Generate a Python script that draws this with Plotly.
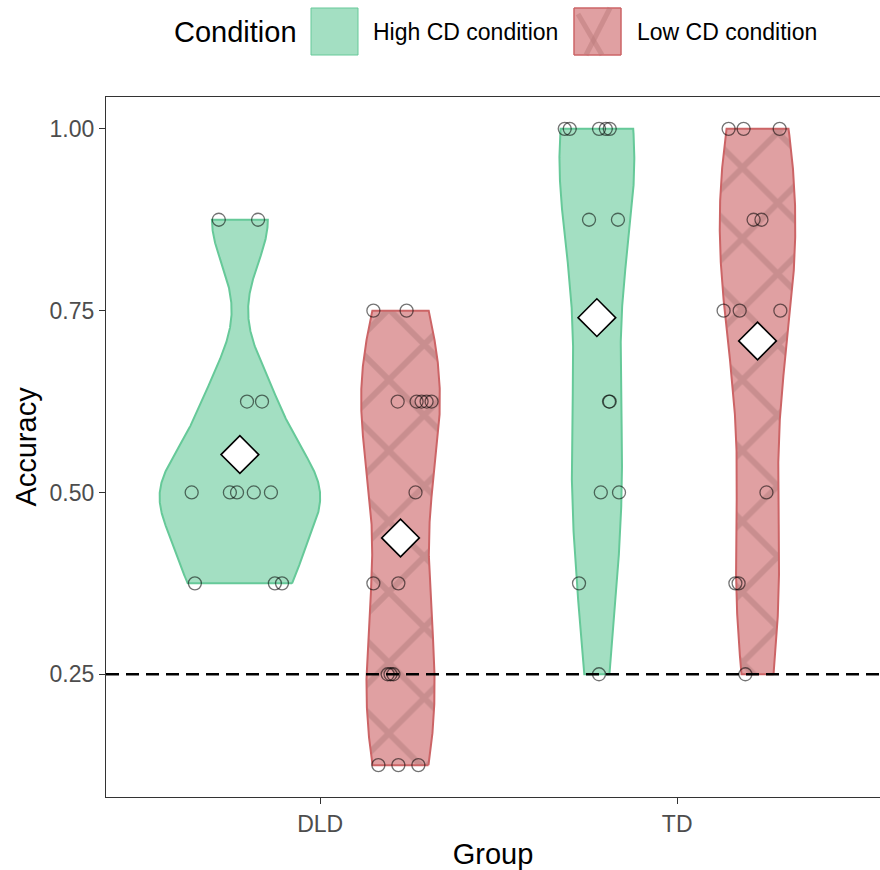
import numpy as np
import plotly.graph_objects as go

# ---------------- data ----------------
groups = ["DLD", "TD"]
conditions = ["High CD condition", "Low CD condition"]
y_tick_vals = [0.25, 0.50, 0.75, 1.00]
y_tick_labels = ["0.25", "0.50", "0.75", "1.00"]
chance_level = 0.25

dld_high_acc = [0.875, 0.875, 0.625, 0.625, 0.5, 0.5, 0.5, 0.5, 0.5, 0.375, 0.375, 0.375]
dld_high_jit = [-0.059, 0.051, 0.020, 0.062, -0.135, -0.028, -0.008, 0.039, 0.087, -0.126, 0.098, 0.118]

dld_low_acc = [0.75, 0.75, 0.625, 0.625, 0.625, 0.625, 0.625, 0.5, 0.375, 0.375,
               0.25, 0.25, 0.25, 0.125, 0.125, 0.125]
dld_low_jit = [-0.076, 0.017, -0.008, 0.045, 0.059, 0.073, 0.087, 0.042, -0.076, -0.006,
               -0.036, -0.028, -0.020, -0.062, -0.006, 0.050]

td_high_acc = [1.0, 1.0, 1.0, 1.0, 1.0, 0.875, 0.875, 0.625, 0.625, 0.5, 0.5, 0.375, 0.25]
td_high_jit = [-0.090, -0.076, 0.006, 0.025, 0.036, -0.022, 0.059, 0.034, 0.036, 0.011, 0.062, -0.050, 0.006]

td_low_acc = [1.0, 1.0, 1.0, 0.875, 0.875, 0.75, 0.75, 0.75, 0.5, 0.375, 0.375, 0.25]
td_low_jit = [-0.081, -0.039, 0.062, -0.011, 0.011, -0.095, -0.050, 0.064, 0.025, -0.062, -0.053, -0.034]

# ---------------- style ----------------
FONT = "Liberation Sans, Arial, Helvetica, sans-serif"
fill_cols = {"High CD condition": "#A3DFC2", "Low CD condition": "#E0A0A2"}
line_cols = {"High CD condition": "#66C999", "Low CD condition": "#CC6466"}
hatch_col = "#C98E8F"
DODGE = 0.225
HALF_W = 0.225

W, H = 880, 870
ML, MR, MT, MB = 106, 0, 97, 73
PW, PH = W - ML - MR, H - MT - MB

series = [
    ("DLD", "High CD condition", dld_high_acc, dld_high_jit),
    ("DLD", "Low CD condition", dld_low_acc, dld_low_jit),
    ("TD", "High CD condition", td_high_acc, td_high_jit),
    ("TD", "Low CD condition", td_low_acc, td_low_jit),
]


def kde(vals, grid):
    v = np.asarray(vals, dtype=float)
    n = len(v)
    sd = v.std(ddof=1)
    q1, q3 = np.percentile(v, [25, 75])
    lo = min(sd, (q3 - q1) / 1.34)
    if lo == 0:
        lo = sd
    bw = 0.9 * lo * n ** -0.2
    z = (grid[:, None] - v[None, :]) / bw
    return np.exp(-0.5 * z ** 2).sum(axis=1) / (n * bw * np.sqrt(2 * np.pi))


dens = []
for g, c, acc, jit in series:
    grid = np.linspace(min(acc), max(acc), 512)
    dens.append((grid, kde(acc, grid)))
dmax = max(d.max() for _, d in dens)

fig = go.Figure()

# violins
for (g, c, acc, jit), (grid, d) in zip(series, dens):
    centre = groups.index(g) + 1 + (-DODGE if c == conditions[0] else DODGE)
    hw = d / dmax * HALF_W
    xs = np.concatenate([centre + hw, (centre - hw)[::-1], [centre + hw[0]]])
    ys = np.concatenate([grid, grid[::-1], [grid[0]]])
    kw = {}
    if c == conditions[1]:
        kw["fillpattern"] = dict(shape="x", size=50, solidity=0.22,
                                 fgcolor=hatch_col, bgcolor=fill_cols[c], fgopacity=1)
    fig.add_trace(go.Scatter(x=xs, y=ys, mode="lines", fill="toself",
                             fillcolor=fill_cols[c],
                             line=dict(color=line_cols[c], width=2),
                             showlegend=False, hoverinfo="skip", **kw))

# jittered points
for g, c, acc, jit in series:
    centre = groups.index(g) + 1 + (-DODGE if c == conditions[0] else DODGE)
    fig.add_trace(go.Scatter(
        x=[centre + j for j in jit], y=acc, mode="markers",
        marker=dict(symbol="circle", size=13, color="rgba(0,0,0,0)",
                    line=dict(color="rgba(0,0,0,0.55)", width=1.3)),
        showlegend=False))

# means
for g, c, acc, jit in series:
    centre = groups.index(g) + 1 + (-DODGE if c == conditions[0] else DODGE)
    fig.add_trace(go.Scatter(
        x=[centre], y=[float(np.mean(acc))], mode="markers",
        marker=dict(symbol="diamond", size=29, color="white",
                    line=dict(color="black", width=1.6)),
        showlegend=False))

# chance line
fig.add_shape(type="line", xref="paper", x0=0, x1=1, yref="y",
              y0=chance_level, y1=chance_level, layer="above",
              line=dict(color="black", width=2.5, dash="13px,7px"))


def px_x(p):
    return (p - ML) / PW


def px_y(p):
    return (H - MB - p) / PH


# manual legend
key_y0, key_y1 = 8, 55
keys = [(311, 358, conditions[0]), (574, 621, conditions[1])]
for x0, x1, c in keys:
    fig.add_shape(type="rect", xref="paper", yref="paper",
                  x0=px_x(x0), x1=px_x(x1), y0=px_y(key_y1), y1=px_y(key_y0),
                  fillcolor=fill_cols[c], line=dict(color=line_cols[c], width=1))
# hatch inside low-CD key
for (ax, ay, bx, by) in [(586, 55, 610, 8), (578, 14, 602, 55)]:
    fig.add_shape(type="line", xref="paper", yref="paper",
                  x0=px_x(ax), y0=px_y(ay), x1=px_x(bx), y1=px_y(by),
                  line=dict(color="rgba(190,125,126,0.55)", width=5))
fig.add_shape(type="rect", xref="paper", yref="paper",
              x0=px_x(574), x1=px_x(621), y0=px_y(key_y1), y1=px_y(key_y0),
              fillcolor="rgba(0,0,0,0)", line=dict(color=line_cols[conditions[1]], width=1))

fig.add_annotation(text="Condition", xref="paper", yref="paper", x=px_x(172), y=px_y(32),
                   xanchor="left", yanchor="middle", showarrow=False,
                   font=dict(family=FONT, size=29, color="black"))
fig.add_annotation(text=conditions[0], xref="paper", yref="paper", x=px_x(371), y=px_y(32),
                   xanchor="left", yanchor="middle", showarrow=False,
                   font=dict(family=FONT, size=23, color="black"))
fig.add_annotation(text=conditions[1], xref="paper", yref="paper", x=px_x(635), y=px_y(32),
                   xanchor="left", yanchor="middle", showarrow=False,
                   font=dict(family=FONT, size=23, color="black"))

fig.update_layout(
    width=W, height=H,
    margin=dict(l=ML, r=MR, t=MT, b=MB, pad=0),
    paper_bgcolor="white", plot_bgcolor="white",
    showlegend=False,
    font=dict(family=FONT),
    xaxis=dict(range=[0.4, 0.4 + PW / 357.0], tickvals=[1, 2], ticktext=groups,
               showgrid=False, zeroline=False, showline=True, mirror=True,
               linecolor="#333333", linewidth=1.2,
               ticks="outside", ticklen=6, tickwidth=1.2, tickcolor="#333333",
               tickfont=dict(size=23, color="#4D4D4D", family=FONT),
               title=dict(text="Group", font=dict(size=29, color="black", family=FONT), standoff=8)),
    yaxis=dict(range=[0.08125, 1.04375], tickvals=y_tick_vals, ticktext=y_tick_labels,
               showgrid=False, zeroline=False, showline=True, mirror=False,
               linecolor="#333333", linewidth=1.2,
               ticks="outside", ticklen=6, tickwidth=1.2, tickcolor="#333333",
               tickfont=dict(size=23, color="#4D4D4D", family=FONT),
               title=dict(text="Accuracy", font=dict(size=29, color="black", family=FONT), standoff=4)),
)

fig.write_html("out.html")
